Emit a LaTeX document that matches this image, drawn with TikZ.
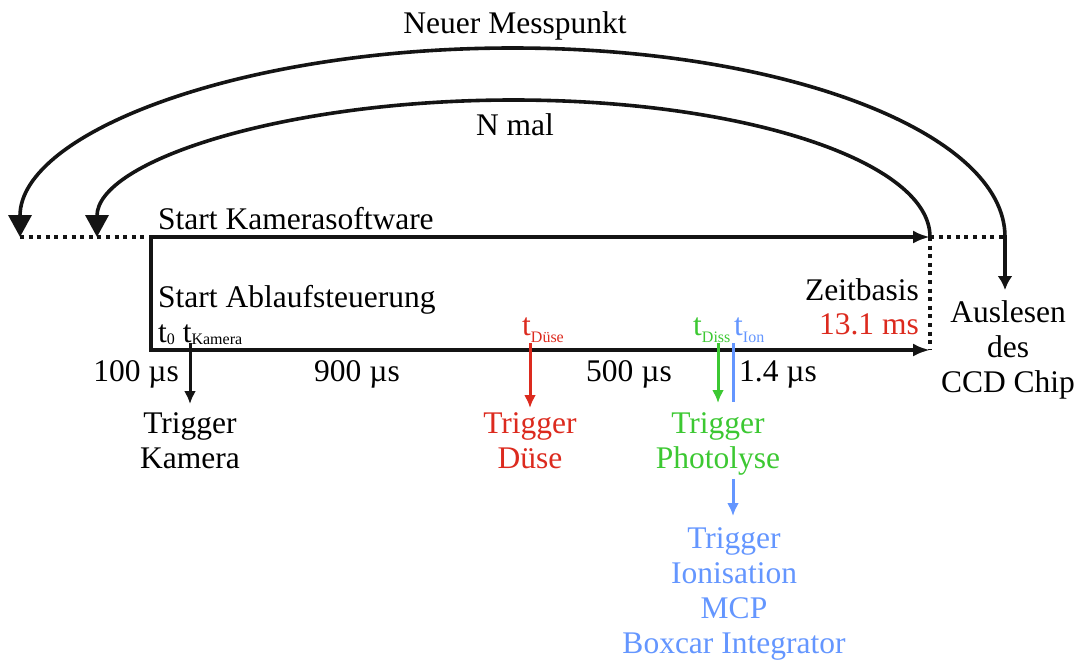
\documentclass[tikz,border=0pt]{standalone}
\usepackage{fontspec}
\setmainfont{Liberation Serif}
\usetikzlibrary{arrows.meta}
\definecolor{trigred}{RGB}{220,42,30}
\definecolor{triggreen}{RGB}{60,200,50}
\definecolor{trigblue}{RGB}{100,150,255}
% lowered small index text after a "t"
\newcommand\lowsub[2][2pt]{\raisebox{-#1}{\fontsize{16}{16}\selectfont #2}}
\begin{document}
\begin{tikzpicture}[x=1pt,y=-1pt,
  every node/.style={font=\fontsize{31.5}{35}\selectfont, inner sep=0pt},
  lbl/.style={anchor=base},
  bar/.style={line width=4pt, line join=miter, color=black!92},
  dotline/.style={line width=4pt, dash pattern=on 4pt off 4.6pt, color=black!92},
  loop/.style={line width=3.6pt, color=black!92},
  trig/.style={line width=3pt, -{Latex[length=13pt,width=12pt]}}]
\useasboundingbox (0,0) rectangle (1081,662);

% time axis points
\coordinate (outerL) at (20,237);
\coordinate (innerL) at (97,237);
\coordinate (swStart) at (151,237);
\coordinate (tzero) at (151,350);
\coordinate (swEnd) at (930,237);
\coordinate (tbEnd) at (930,350);
\coordinate (outerR) at (1005,237);
\coordinate (outerEnd) at (1005,290);
\coordinate (outerTop) at (512.5,48);
\coordinate (innerTop) at (513.5,100);

% dotted continuations
\draw[dotline] (outerL) -- (swStart);
\draw[dotline] (swEnd) -- (outerR);
\draw[dotline] (swEnd) -- (tbEnd);

% camera software and sequence control bars
\draw[bar, {Latex[length=17pt,width=13pt]}-{Latex[length=17pt,width=13pt]}]
  (swEnd) -- (swStart) -- (tzero) -- (tbEnd);

% loops
\draw[loop, {Triangle[length=22pt,width=23pt]}-{Latex[length=14pt,width=15pt]}]
  (outerL) .. controls (20,132.6) and (240.5,48) .. (outerTop)
  .. controls (784.5,48) and (1005,132.6) .. (outerR) -- (outerEnd);
\draw[loop, {Triangle[length=22pt,width=23pt]}-]
  (innerL) .. controls (97,161.3) and (283.5,100) .. (innerTop)
  .. controls (743.5,100) and (930,161.3) .. (swEnd);

\node[lbl] (neu) at (515,33) {Neuer Messpunkt};
\node[lbl] (nmal) at (515,135) {N mal};
\node[lbl, anchor=base west] (kam) at (158,229) {Start Kamerasoftware};
\node[lbl, anchor=base west] (abl) at (158,307) {Start Ablaufsteuerung};
\node[lbl, anchor=base west] (tnull) at (158,342) {t\lowsub{0} t\lowsub{Kamera}};
\node[lbl, anchor=base west, text=trigred] (tduese) at (522,335) {t\lowsub[7pt]{Düse}};
\node[lbl, anchor=base west, text=triggreen] (tdiss) at (693,335) {t\lowsub[7pt]{Diss}};
\node[lbl, anchor=base west, text=trigblue] (tion) at (734,335) {t\lowsub[7pt]{Ion}};

\node[lbl, anchor=base east] (d100) at (179,381) {100 µs};
\node[lbl] (d900) at (357,381) {900 µs};
\node[lbl] (d500) at (629,381) {500 µs};
\node[lbl] (d14) at (778,381) {1.4 µs};

\node[lbl, anchor=base east] (zb) at (919,300) {Zeitbasis};
\node[lbl, anchor=base east, text=trigred] (zt) at (919,334) {13.1 ms};
% multi-line labels: anchored at the baseline of their last line
\node[lbl, align=center] (ccd) at (1008,392) {Auslesen\\des\\CCD Chip};

\node[lbl, align=center] (tkam) at (190,468) {Trigger\\Kamera};
\node[lbl, align=center, text=trigred] (tdue) at (530,468) {Trigger\\Düse};
\node[lbl, align=center, text=triggreen] (tpho) at (718,468) {Trigger\\Photolyse};
\node[lbl, align=center, text=trigblue] (tionis) at (734,653)
  {Trigger\\Ionisation\\MCP\\Boxcar Integrator};

% trigger ticks
\coordinate (kamA) at (190,343); \coordinate (kamB) at (190,404);
\coordinate (dueA) at (530,343); \coordinate (dueB) at (530,408);
\coordinate (phoA) at (718,343); \coordinate (phoB) at (718,403);
\coordinate (ionA) at (733,343); \coordinate (ionB) at (733,402);
\coordinate (ionC) at (733,479); \coordinate (ionD) at (733,516);
\draw[trig, black!92] (kamA) -- (kamB);
\draw[trig, trigred] (dueA) -- (dueB);
\draw[trig, triggreen] (phoA) -- (phoB);
\draw[line width=3pt, trigblue] (ionA) -- (ionB);
\draw[trig, trigblue] (ionC) -- (ionD);
\end{tikzpicture}
\end{document}
